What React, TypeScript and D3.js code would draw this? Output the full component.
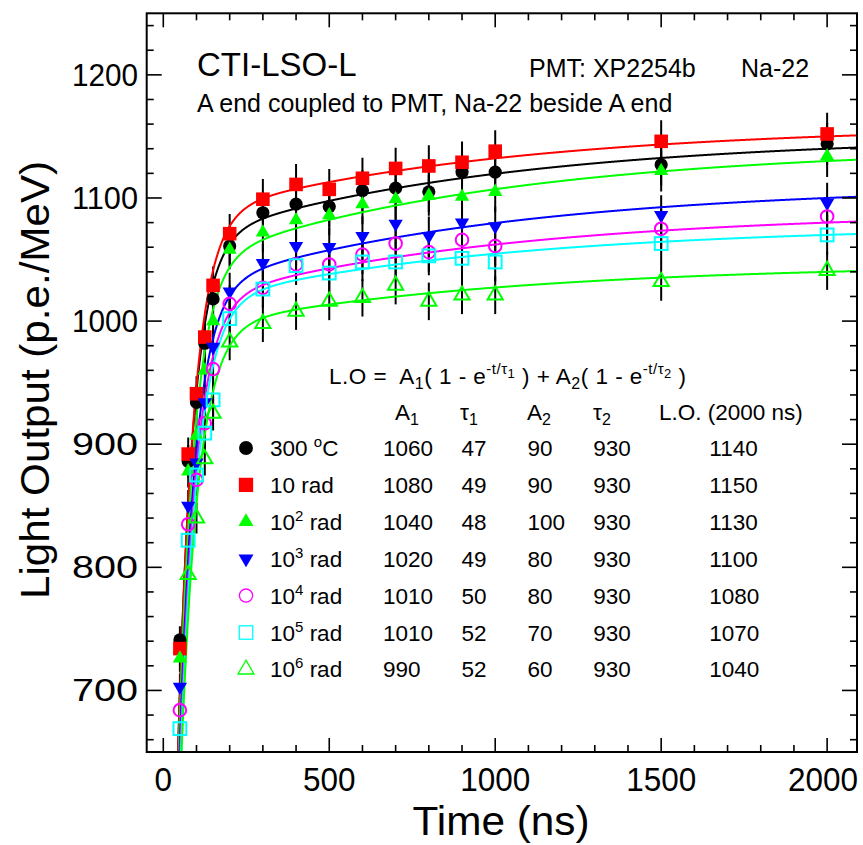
import React from 'react';
import * as d3 from 'd3';

// ---------- data ----------
const times = [50, 75, 100, 125, 150, 200, 300, 400, 500, 600, 700, 800, 900, 1000, 1500, 2000];

const lo300C = [741, 886, 934, 982, 1018, 1061, 1088, 1095, 1093, 1106, 1108, 1105, 1121, 1121, 1127, 1144];
const lo10rad = [734, 892, 941, 987, 1029, 1071, 1099, 1111, 1107, 1116, 1124, 1126, 1129, 1138, 1146, 1152];
const lo1e2rad = [726, 878, 907, 960, 1000, 1058, 1072, 1082, 1086, 1095, 1099, 1102, 1101, 1105, 1122, 1134];
const lo1e3rad = [703, 850, 885, 934, 979, 1024, 1047, 1061, 1060, 1069, 1079, 1069, 1080, 1077, 1086, 1096];
const lo1e4rad = [684, 835, 871, 917, 961, 1014, 1027, 1046, 1046, 1054, 1063, 1056, 1066, 1061, 1075, 1085];
const lo1e5rad = [669, 822, 875, 909, 936, 1002, 1026, 1045, 1039, 1048, 1048, 1053, 1051, 1048, 1063, 1070];
const lo1e6rad = [null, 794, 840, 888, 925, 983, 998, 1008, 1016, 1019, 1029, 1016, 1021, 1021, 1032, 1041];

const RELATIVE_ERROR = 0.015;

// fit parameters (table)
const A1 = [1060, 1080, 1040, 1020, 1010, 1010, 990];
const tau1 = [47, 49, 48, 49, 50, 52, 52];
const A2 = [90, 90, 100, 80, 80, 70, 60];
const tau2 = [930, 930, 930, 930, 930, 930, 930];
const lo2000 = [1140, 1150, 1130, 1100, 1080, 1070, 1040];

const xMajor = [0, 500, 1000, 1500, 2000];
const yMajor = [700, 800, 900, 1000, 1100, 1200];

type MarkerKind = 'circle' | 'square' | 'triUp' | 'triDown' | 'openCircle' | 'openSquare' | 'openTriUp';

const seriesValues = [lo300C, lo10rad, lo1e2rad, lo1e3rad, lo1e4rad, lo1e5rad, lo1e6rad];
const seriesColors = ['#000000', '#ff0000', '#00ff00', '#0000ff', '#ff00ff', '#00ffff', '#00ff00'];
const seriesMarkers: MarkerKind[] = ['circle', 'square', 'triUp', 'triDown', 'openCircle', 'openSquare', 'openTriUp'];
// legend labels: [base, superscript, rest]
const legendLabels: [string, string, string][] = [
  ['300 ', 'o', 'C'],
  ['10 rad', '', ''],
  ['10', '2', ' rad'],
  ['10', '3', ' rad'],
  ['10', '4', ' rad'],
  ['10', '5', ' rad'],
  ['10', '6', ' rad'],
];

// ---------- layout ----------
const W = 863, H = 845;
const L = 146.7, R = 857, T = 13.3, B = 752;
const FONT = '"Liberation Sans", Arial, Helvetica, sans-serif';

const x = d3.scaleLinear().domain([-50, 2090]).range([L, R]);
const y = d3.scaleLinear().domain([650, 1250]).range([B, T]);

type Seg = { t: string; lvl?: number; fs?: number };
function Rich({ px, py, segs, fs, anchor = 'start', tl }: { px: number; py: number; segs: Seg[]; fs: number; anchor?: string; tl?: number }) {
  let cur = 0;
  return (
    <text
      x={px}
      y={py}
      fontSize={fs}
      textAnchor={anchor}
      fontFamily={FONT}
      style={{ whiteSpace: 'pre' }}
      fill="#000"
      {...(tl ? { textLength: tl, lengthAdjust: 'spacing' } : {})}
    >
      {segs.map((s, i) => {
        const target = s.lvl ?? 0;
        const dy = target - cur;
        cur = target;
        return (
          <tspan key={i} dy={dy} fontSize={s.fs ?? fs}>
            {s.t}
          </tspan>
        );
      })}
    </text>
  );
}

function Marker({ kind, color, cx, cy, s = 1, sw = 2 }: { kind: MarkerKind; color: string; cx: number; cy: number; s?: number; sw?: number }) {
  const sym = (type: d3.SymbolType, area: number) => d3.symbol().type(type).size(area)() as string;
  switch (kind) {
    case 'circle':
      return <circle cx={cx} cy={cy} r={6.6 * s} fill={color} />;
    case 'square':
      return <rect x={cx - 6.8 * s} y={cy - 6.8 * s} width={13.6 * s} height={13.6 * s} fill={color} />;
    case 'triUp':
      return <path d={sym(d3.symbolTriangle, 88 * s * s)} transform={`translate(${cx},${cy})`} fill={color} />;
    case 'triDown':
      return <path d={sym(d3.symbolTriangle, 88 * s * s)} transform={`translate(${cx},${cy}) rotate(180)`} fill={color} />;
    case 'openCircle':
      return <circle cx={cx} cy={cy} r={6.3 * s} fill="none" stroke={color} strokeWidth={sw} />;
    case 'openSquare':
      return <rect x={cx - 6.4 * s} y={cy - 6.4 * s} width={12.8 * s} height={12.8 * s} fill="none" stroke={color} strokeWidth={sw} />;
    case 'openTriUp':
      return <path d={sym(d3.symbolTriangle, 100 * s * s)} transform={`translate(${cx},${cy})`} fill="none" stroke={color} strokeWidth={sw} />;
  }
}

export default function App() {
  const tCurve = d3.range(0, 2091, 1);

  const curves = A1.map((a1, i) => {
    // second amplitude made consistent with the quoted L.O.(2000 ns)
    const a2 = (lo2000[i] - a1 * (1 - Math.exp(-2000 / tau1[i]))) / (1 - Math.exp(-2000 / tau2[i]));
    const f = (t: number) => a1 * (1 - Math.exp(-t / tau1[i])) + a2 * (1 - Math.exp(-t / tau2[i]));
    return d3
      .line<number>()
      .x((t) => x(t))
      .y((t) => y(f(t)))(tCurve) as string;
  });

  const xMinor = d3.range(0, 2001, 100);
  const yMinor = d3.range(660, 1241, 20);

  const rowBase = (i: number) => 456 + i * 36.9;

  return (
    <svg width={W} height={H} style={{ position: 'absolute', left: 0, top: 0, background: '#fff' }} fontFamily={FONT}>
      <defs>
        <clipPath id="plotClip">
          <rect x={L} y={T} width={R - L} height={B - T} />
        </clipPath>
      </defs>
      <rect x={0} y={0} width={W} height={H} fill="#fff" />

      {/* error bars */}
      <g clipPath="url(#plotClip)" stroke="#000" strokeWidth={2}>
        {seriesValues.map((vals, si) =>
          vals.map((v, ti) =>
            v == null ? null : (
              <line key={`e${si}-${ti}`} x1={x(times[ti])} x2={x(times[ti])} y1={y(v * (1 - RELATIVE_ERROR))} y2={y(v * (1 + RELATIVE_ERROR))} />
            )
          )
        )}
      </g>

      {/* fit curves */}
      <g clipPath="url(#plotClip)" fill="none" strokeWidth={2}>
        {curves.map((d, i) => (
          <path key={`c${i}`} d={d} stroke={seriesColors[i]} />
        ))}
      </g>

      {/* markers */}
      <g clipPath="url(#plotClip)">
        {seriesValues.map((vals, si) =>
          vals.map((v, ti) =>
            v == null ? null : <Marker key={`m${si}-${ti}`} kind={seriesMarkers[si]} color={seriesColors[si]} cx={x(times[ti])} cy={y(v)} />
          )
        )}
      </g>

      {/* frame and ticks */}
      <rect x={L} y={T} width={R - L} height={B - T} fill="none" stroke="#000" strokeWidth={2} />
      <g stroke="#000" strokeWidth={1.6}>
        {xMinor.map((t) => {
          const major = t % 500 === 0;
          const len = major ? 14 : 7;
          return (
            <g key={`xt${t}`}>
              <line x1={x(t)} x2={x(t)} y1={B} y2={B - len} />
              <line x1={x(t)} x2={x(t)} y1={T} y2={T + len} />
            </g>
          );
        })}
        {yMinor.map((v) => {
          const major = v % 100 === 0;
          const len = major ? 15 : 7;
          return (
            <g key={`yt${v}`}>
              <line x1={L} x2={L + len} y1={y(v)} y2={y(v)} />
              <line x1={R} x2={R - len} y1={y(v)} y2={y(v)} />
            </g>
          );
        })}
      </g>

      {/* tick labels */}
      {xMajor.map((t) => {
        const n = String(t).length;
        const cx = Math.min(x(t), 858 - (n * 17.5) / 2);
        return (
          <text key={`xl${t}`} x={cx} y={791} fontSize={34} textAnchor="middle" fill="#000" textLength={n * 17.5} lengthAdjust="spacingAndGlyphs">
            {t}
          </text>
        );
      })}
      {yMajor.map((v) => (
        <text key={`yl${v}`} x={138} y={y(v) + 11} fontSize={31} textAnchor="end" fill="#000" textLength={66} lengthAdjust="spacingAndGlyphs">
          {v}
        </text>
      ))}

      {/* axis titles */}
      <text x={501} y={835} fontSize={41} textAnchor="middle" fill="#000" textLength={177} lengthAdjust="spacingAndGlyphs">
        Time (ns)
      </text>
      <text transform={`translate(49,380) rotate(-90)`} fontSize={41} textAnchor="middle" fill="#000" textLength={438} lengthAdjust="spacingAndGlyphs">
        Light Output (p.e./MeV)
      </text>

      {/* headings */}
      <text x={197} y={76} fontSize={33} fill="#000">
        CTI-LSO-L
      </text>
      <text x={529} y={77} fontSize={25} fill="#000">
        PMT: XP2254b
      </text>
      <text x={741} y={77} fontSize={25} fill="#000">
        Na-22
      </text>
      <text x={197} y={112} fontSize={25} fill="#000">
        A end coupled to PMT, Na-22 beside A end
      </text>

      {/* formula */}
      <Rich
        px={329}
        py={384}
        fs={22.5}
        tl={357}
        segs={[
          { t: 'L.O =  A' },
          { t: '1', lvl: 5, fs: 16 },
          { t: '( 1 - e' },
          { t: '-t/τ', lvl: -10, fs: 15 },
          { t: '1', lvl: -6, fs: 13 },
          { t: ' ) + A' },
          { t: '2', lvl: 5, fs: 16 },
          { t: '( 1 - e' },
          { t: '-t/τ', lvl: -10, fs: 15 },
          { t: '2', lvl: -6, fs: 13 },
          { t: ' )' },
        ]}
      />

      {/* table header */}
      <Rich px={395} py={420} fs={22.5} segs={[{ t: 'A' }, { t: '1', lvl: 5, fs: 16 }]} />
      <Rich px={460} py={420} fs={22.5} segs={[{ t: 'τ' }, { t: '1', lvl: 5, fs: 16 }]} />
      <Rich px={527} py={420} fs={22.5} segs={[{ t: 'A' }, { t: '2', lvl: 5, fs: 16 }]} />
      <Rich px={593} py={420} fs={22.5} segs={[{ t: 'τ' }, { t: '2', lvl: 5, fs: 16 }]} />
      <text x={659} y={420} fontSize={22.5} fill="#000">
        L.O. (2000 ns)
      </text>

      {/* legend + table rows */}
      {legendLabels.map((lab, i) => {
        const by = rowBase(i);
        const open = seriesMarkers[i].startsWith('open');
        return (
          <g key={`row${i}`}>
            <Marker kind={seriesMarkers[i]} color={seriesColors[i]} cx={246} cy={by - 8} sw={open ? 1.3 : 2} s={1.05} />
            <Rich
              px={270}
              py={by}
              fs={22.5}
              segs={lab[1] ? [{ t: lab[0] }, { t: lab[1], lvl: -9, fs: 15 }, { t: lab[2] }] : [{ t: lab[0] }]}
            />
            <text x={383} y={by} fontSize={22.5} fill="#000">
              {A1[i]}
            </text>
            <text x={461.5} y={by} fontSize={22.5} fill="#000">
              {tau1[i]}
            </text>
            <text x={527.5} y={by} fontSize={22.5} fill="#000">
              {A2[i]}
            </text>
            <text x={593.3} y={by} fontSize={22.5} fill="#000">
              {tau2[i]}
            </text>
            <text x={709.3} y={by} fontSize={22.5} fill="#000">
              {lo2000[i]}
            </text>
          </g>
        );
      })}
    </svg>
  );
}
